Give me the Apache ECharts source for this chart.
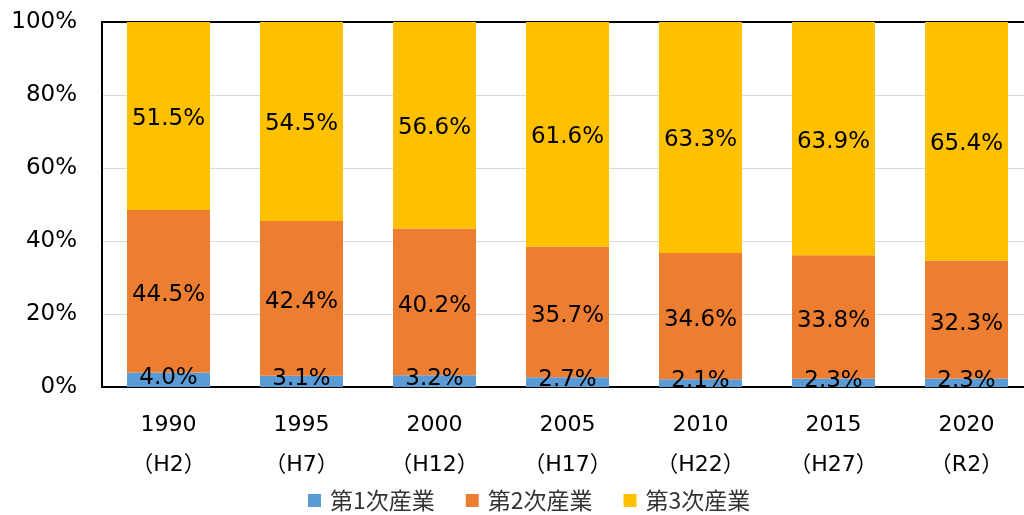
<!DOCTYPE html>
<html>
<head>
<meta charset="utf-8">
<script src="https://cdn.jsdelivr.net/npm/echarts@6/dist/echarts.min.js"></script>
<style>
  html, body { margin: 0; padding: 0; background: #fff; overflow: hidden; }
  /* the plot runs slightly past the right edge, so the canvas is wider than the window */
  #chart { width: 1060px; height: 515px; }
</style>
</head>
<body>
<div id="chart"></div>
<script>
// 年次（和暦）
var years = ['1990', '1995', '2000', '2005', '2010', '2015', '2020'];
var eras = ['（H2）', '（H7）', '（H12）', '（H17）', '（H22）', '（H27）', '（R2）'];
var seriesNames = ['第1次産業', '第2次産業', '第3次産業'];
// 産業別構成比 (%)
var primary = [4.0, 3.1, 3.2, 2.7, 2.1, 2.3, 2.3];
var secondary = [44.5, 42.4, 40.2, 35.7, 34.6, 33.8, 32.3];
var tertiary = [51.5, 54.5, 56.6, 61.6, 63.3, 63.9, 65.4];
var colors = ['#5B9BD5', '#ED7D31', '#FFC000'];

var font = 'Verdana, "DejaVu Sans", "Noto Sans CJK JP", sans-serif';

var categories = [];
for (var i = 0; i < years.length; i++) {
  categories.push(years[i] + '\n' + eras[i]);
}

function makeSeries(name, data, dy) {
  return {
    name: name,
    type: 'bar',
    stack: 'total',
    barWidth: 83,
    data: data,
    label: {
      show: true,
      position: 'inside',
      offset: [0, dy],
      color: '#000',
      fontSize: 23,
      fontFamily: font,
      formatter: function (p) { return p.value.toFixed(1) + '%'; }
    }
  };
}

var chart = echarts.init(document.getElementById('chart'));
chart.setOption({
  animation: false,
  color: colors,
  textStyle: { fontFamily: font },
  grid: { left: 102, top: 22, width: 931, height: 365 },
  legend: {
    top: 484,
    left: 303,
    itemWidth: 13,
    itemHeight: 13,
    itemGap: 31,
    icon: 'rect',
    textStyle: {
      fontSize: 23,
      color: '#333',
      padding: [0, 0, 0, 4],
      fontFamily: '"Noto Sans CJK JP", sans-serif'
    },
    data: seriesNames
  },
  xAxis: [{
    type: 'category',
    data: categories,
    axisLine: { lineStyle: { color: '#000', width: 2 } },
    axisTick: { show: false },
    axisLabel: { color: '#000', fontSize: 22, lineHeight: 40, margin: 18, fontFamily: font }
  }, {
    type: 'category',
    position: 'top',
    data: categories,
    axisLine: { lineStyle: { color: '#000', width: 2 } },
    axisTick: { show: false },
    axisLabel: { show: false }
  }],
  yAxis: {
    type: 'value',
    min: 0,
    max: 100,
    interval: 20,
    axisLine: { show: true, lineStyle: { color: '#000', width: 2 } },
    axisTick: { show: false },
    splitLine: { lineStyle: { color: '#d9d9d9', width: 1 } },
    axisLabel: { color: '#000', fontSize: 23, margin: 25, fontFamily: font, formatter: '{value}%' }
  },
  series: [
    makeSeries(seriesNames[0], primary, -2),
    makeSeries(seriesNames[1], secondary, 4),
    makeSeries(seriesNames[2], tertiary, 3)
  ]
});
</script>
</body>
</html>
